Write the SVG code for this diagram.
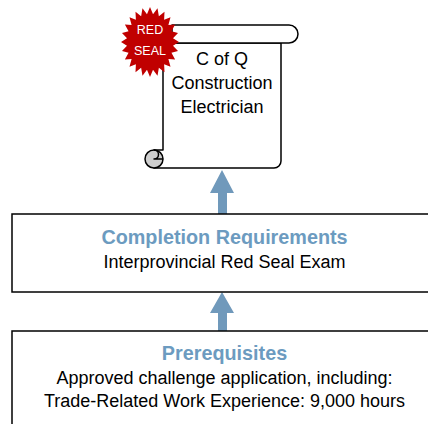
<svg xmlns="http://www.w3.org/2000/svg" width="428" height="424" viewBox="0 0 428 424">
<style>
.t{font-family:"Liberation Sans",Arial,sans-serif;text-anchor:middle;fill:#000}
.body{font-size:18px}
.title{font-size:19.8px;font-weight:bold;fill:#6c9bc0}
.box{fill:#fff;stroke:#000;stroke-width:1.5}
.line{fill:none;stroke:#000;stroke-width:1.5;stroke-linejoin:round}
.arrow{fill:#7099bb}
</style>
<rect width="428" height="424" fill="#fff"/>
<g id="connectors">
<polygon class="arrow" points="222,170 234,193 227,193 227,214 218,214 218,193 210,193"/>
<polygon class="arrow" points="222,292 234,313 227,313 227,331 218,331 218,313 210,313"/>
</g>
<g id="certificate">
<path class="line" style="fill:#fff" d="M163,43 H281 V161 A7,7 0 0 1 274,168 H154 V150 H163 Z"/>
<path class="line" style="fill:#fff" d="M172,25 H289 A9,9 0 0 1 289,43 H172 Z"/>
<circle cx="154" cy="159" r="9" fill="#cfcfcf" stroke="#000" stroke-width="1.5"/>
<path class="line" d="M154,150 A4.5,4.5 0 0 1 154,159 H163"/>
<text class="t" x="222" y="65" font-size="18">C of Q</text>
<text class="t" x="222" y="89" font-size="18">Construction</text>
<text class="t" x="222" y="113" font-size="18">Electrician</text>
</g>
<g id="seal">
<polygon fill="#c00000" transform="translate(150,42) scale(29,35)" points="1,0 .7931,.1044 .9659,.2588 .7391,.3061 .866,.5 .6347,.487 .7071,.7071 .487,.6347 .5,.866 .3061,.7391 .2588,.9659 .1044,.7931 0,1 -.1044,.7931 -.2588,.9659 -.3061,.7391 -.5,.866 -.487,.6347 -.7071,.7071 -.6347,.487 -.866,.5 -.7391,.3061 -.9659,.2588 -.7931,.1044 -1,0 -.7931,-.1044 -.9659,-.2588 -.7391,-.3061 -.866,-.5 -.6347,-.487 -.7071,-.7071 -.487,-.6347 -.5,-.866 -.3061,-.7391 -.2588,-.9659 -.1044,-.7931 0,-1 .1044,-.7931 .2588,-.9659 .3061,-.7391 .5,-.866 .487,-.6347 .7071,-.7071 .6347,-.487 .866,-.5 .7391,-.3061 .9659,-.2588 .7931,-.1044"/>
<text class="t" x="150" y="34" font-size="12.5" style="fill:#fff">RED</text>
<text class="t" x="150" y="55" font-size="12.5" style="fill:#fff">SEAL</text>
</g>
<g id="completion">
<rect class="box" x="12" y="214" width="430" height="78"/>
<text class="t title" x="224.5" y="244">Completion Requirements</text>
<text class="t body" x="224.5" y="268">Interprovincial Red Seal Exam</text>
</g>
<g id="prerequisites">
<rect class="box" x="12" y="331" width="430" height="110"/>
<text class="t title" x="224.5" y="360">Prerequisites</text>
<text class="t body" x="224.5" y="384">Approved challenge application, including:</text>
<text class="t body" x="224.5" y="407">Trade-Related Work Experience: 9,000 hours</text>
</g>
</svg>
